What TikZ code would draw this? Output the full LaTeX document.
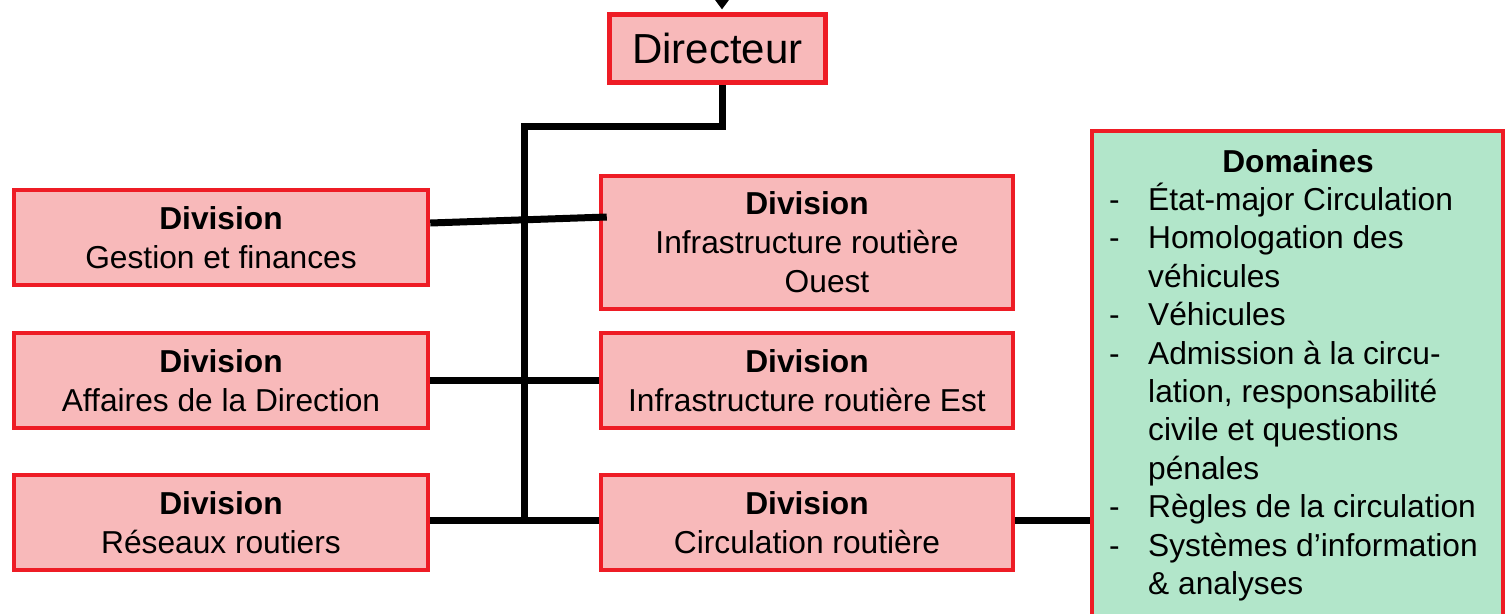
\documentclass[tikz,border=0pt]{standalone}
\usepackage{fontspec}
\setmainfont{Liberation Sans}
\usetikzlibrary{arrows.meta,calc}
\definecolor{bred}{HTML}{EE1C25}
\definecolor{bpink}{HTML}{F8B9BA}
\definecolor{bgreen}{HTML}{B2E6CA}
\begin{document}
\begin{tikzpicture}[x=1pt,y=-1pt,
  divbox/.style={draw=bred, fill=bpink, line width=4.5pt, inner sep=0pt, align=center,
    font=\fontsize{31.7}{39}\selectfont},
  conn/.style={line width=7pt, black},
  plain/.style={inner sep=0pt, font=\fontsize{31.7}{38.4}\selectfont}]
\useasboundingbox (0,0) rectangle (1506,613);

% boxes
\node[divbox, line width=5pt, minimum width=216pt, minimum height=68pt,
  font=\fontsize{42}{50}\selectfont] (dir) at (717.5,48.5) {Directeur};
\node[divbox, minimum width=414pt, minimum height=95pt] (gest) at (221,237.5)
  {\textbf{Division}\\Gestion et finances};
\node[divbox, minimum width=414pt, minimum height=95pt] (aff) at (221,380.5)
  {\textbf{Division}\\Affaires de la Direction};
\node[divbox, minimum width=414pt, minimum height=95pt] (res) at (221,522.5)
  {\textbf{Division}\\Réseaux routiers};
\node[divbox, minimum width=412pt, minimum height=133pt] (ouest) at (807,242.5)
  {\textbf{Division}\\Infrastructure routière\\\hspace*{40pt}Ouest};
\node[divbox, minimum width=412pt, minimum height=95pt] (est) at (807,380.5)
  {\textbf{Division}\\Infrastructure routière Est};
\node[divbox, minimum width=412pt, minimum height=95pt] (circ) at (807,522.5)
  {\textbf{Division}\\Circulation routière};
\node[draw=bred, fill=bgreen, line width=4.5pt, minimum width=411pt, minimum height=519pt,
  inner sep=0pt] (dom) at (1297.5,390.5) {};
\node[plain, font=\fontsize{31.7}{38.4}\selectfont\bfseries, anchor=base] (domt) at (1298,172) {Domaines};
\node[plain, anchor=base west] (doml) at (1109,210.5) {\parbox[t]{392pt}{\fontsize{31.7}{38.4}\selectfont\raggedright
  \makebox[39pt][l]{-}État-major Circulation\\
  \makebox[39pt][l]{-}Homologation des\\
  \hspace*{39pt}véhicules\\
  \makebox[39pt][l]{-}Véhicules\\
  \makebox[39pt][l]{-}Admission à la circu-\\
  \hspace*{39pt}lation, responsabilité\\
  \hspace*{39pt}civile et questions\\
  \hspace*{39pt}pénales\\
  \makebox[39pt][l]{-}Règles de la circulation\\
  \makebox[39pt][l]{-}Systèmes d’information\\
  \hspace*{39pt}\& analyses}};

% connectors
\coordinate (src) at (722,-40);
\coordinate (tx) at (722,0);
\coordinate (bend) at (524,126);
\coordinate (foot) at (524,522);
\draw[conn, -{Triangle[length=20pt,width=28pt]}] (src) -- ($(dir.north -| src)+(0,-2.5)$);
\draw[conn] (dir.south -| tx) |- (bend) -- (foot);
\draw[conn] ($(gest.east)+(0,-14.5)$) -- ($(ouest.west)+(8,-25.5)$);
\draw[conn] (aff.east) -- (est.west);
\draw[conn] ($(res.east)+(0,-2.5)$) -- ($(circ.west)+(0,-2.5)$);
\draw[conn] ($(circ.east)+(0,-2.5)$) -- ($(circ.east -| dom.west)+(0,-2.5)$);
\end{tikzpicture}
\end{document}
